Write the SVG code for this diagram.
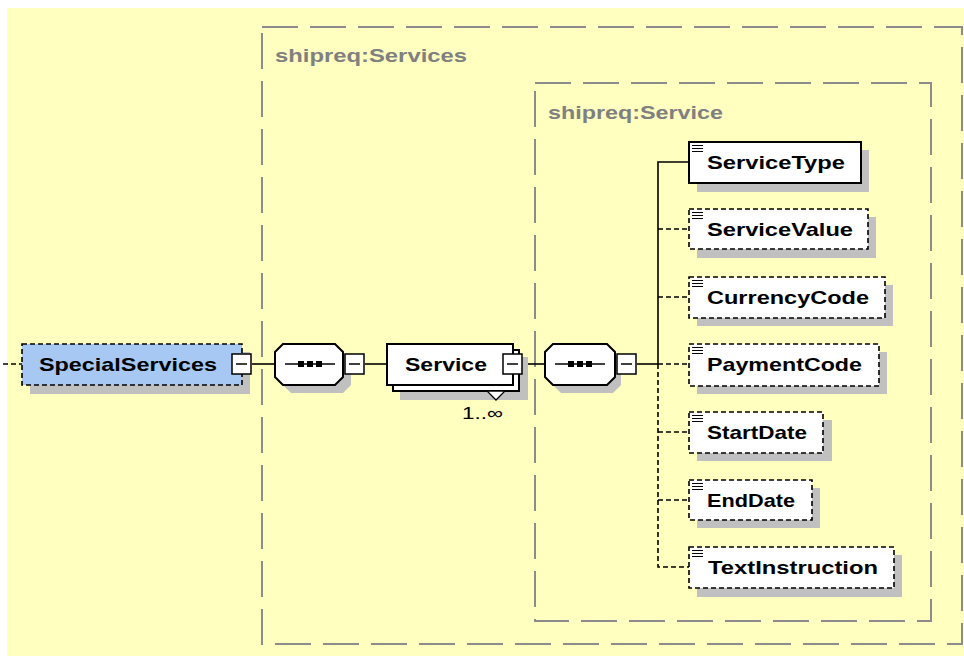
<svg xmlns="http://www.w3.org/2000/svg" width="964" height="656" viewBox="0 0 964 656">
<style>
.bg{fill:#FFFFC0}
.grp{fill:none;stroke:#8C8C8C;stroke-width:2;stroke-dasharray:36 12}
.glab{font-family:"Liberation Sans",Arial,sans-serif;font-weight:bold;font-size:19px;fill:#808080}
.shadow{fill:#C0C0C0}
.el{fill:#FFFFFF;stroke:#000;stroke-width:2}
.opt{fill:#FFFFFF;stroke:#000;stroke-width:1.6;stroke-dasharray:5 3}
.optblue{fill:#A6C8F2;stroke:#000;stroke-width:1.6;stroke-dasharray:5 3}
.lab{font-family:"Liberation Sans",Arial,sans-serif;font-weight:bold;font-size:19px;fill:#000}
.card{font-family:"Liberation Sans",Arial,sans-serif;font-size:17px;fill:#000}
.mbox{fill:#FFFFFF;stroke:#000;stroke-width:1.5}
.mline{stroke:#000;stroke-width:1.5}
.icon{stroke:#000;stroke-width:1.2}
.solid{fill:none;stroke:#000;stroke-width:1.6}
.dash{fill:none;stroke:#000;stroke-width:1.6;stroke-dasharray:5 3}
</style>
<rect class="bg" x="7" y="8" width="957" height="648"/>

<g id="group-services">
<rect class="grp" x="262" y="27" width="700" height="617"/>
<text class="glab" x="275" y="62" textLength="192" lengthAdjust="spacingAndGlyphs">shipreq:Services</text>
</g>
<g id="group-service">
<rect class="grp" x="535" y="83" width="396" height="538"/>
<text class="glab" x="548" y="119" textLength="175" lengthAdjust="spacingAndGlyphs">shipreq:Service</text>
</g>

<g id="connectors">
<line class="dash" x1="3" y1="364" x2="22" y2="364"/>
<line class="solid" x1="252" y1="364" x2="275" y2="364"/>
<line class="solid" x1="365" y1="364" x2="387" y2="364"/>
<line class="solid" x1="523" y1="364" x2="545" y2="364"/>
<line class="solid" x1="637" y1="364" x2="658" y2="364"/>
<polyline class="dash" points="658,364 658,567 689,567"/>
<line class="dash" x1="658" y1="229" x2="689" y2="229"/>
<line class="dash" x1="658" y1="297" x2="689" y2="297"/>
<line class="dash" x1="658" y1="364" x2="689" y2="364"/>
<line class="dash" x1="658" y1="432" x2="689" y2="432"/>
<line class="dash" x1="658" y1="500" x2="689" y2="500"/>
<polyline class="solid" points="658,364 658,162 689,162"/>
</g>

<g id="node-specialservices">
<rect class="shadow" x="30" y="352" width="220" height="42"/>
<rect class="optblue" x="22" y="344" width="220" height="41"/>
<text class="lab" x="39" y="371" textLength="178" lengthAdjust="spacingAndGlyphs">SpecialServices</text>
<rect class="mbox" x="232" y="354" width="19" height="20"/>
<line class="mline" x1="236" y1="364" x2="247" y2="364"/>
</g>

<g id="node-sequence1">
<polygon class="shadow" points="291,352 343,352 351,360 351,385 343,393 291,393 283,385 283,360"/>
<polygon class="el" points="283,344 335,344 343,352 343,377 335,385 283,385 275,377 275,352"/>
<line class="mline" x1="285" y1="364" x2="335" y2="364"/>
<rect x="298" y="361" width="6" height="6" fill="#000"/>
<rect x="307" y="361" width="6" height="6" fill="#000"/>
<rect x="316" y="361" width="6" height="6" fill="#000"/>
<rect class="mbox" x="345" y="354" width="19" height="20"/>
<line class="mline" x1="349" y1="364" x2="360" y2="364"/>
</g>

<g id="node-service">
<rect class="shadow" x="400" y="357" width="128" height="43"/>
<rect class="el" x="393" y="350" width="126" height="41"/>
<rect class="el" x="387" y="344" width="126" height="41"/>
<polygon class="el" points="487,391 505,391 496,400" style="stroke-width:1.3"/>
<text class="lab" x="405" y="371" textLength="82" lengthAdjust="spacingAndGlyphs">Service</text>
<rect class="mbox" x="503" y="354" width="19" height="20"/>
<line class="mline" x1="507" y1="364" x2="518" y2="364"/>
<text class="card" x="462" y="419" textLength="41" lengthAdjust="spacingAndGlyphs">1..∞</text>
</g>

<g id="node-sequence2">
<polygon class="shadow" points="561,352 613,352 621,360 621,385 613,393 561,393 553,385 553,360"/>
<polygon class="el" points="553,344 607,344 615,352 615,377 607,385 553,385 545,377 545,352"/>
<line class="mline" x1="555" y1="364" x2="605" y2="364"/>
<rect x="568" y="361" width="6" height="6" fill="#000"/>
<rect x="577" y="361" width="6" height="6" fill="#000"/>
<rect x="586" y="361" width="6" height="6" fill="#000"/>
<rect class="mbox" x="617" y="354" width="19" height="20"/>
<line class="mline" x1="621" y1="364" x2="632" y2="364"/>
</g>

<g id="node-servicetype">
<rect class="shadow" x="697" y="150" width="172" height="42"/>
<rect class="el" x="689" y="142" width="172" height="41"/>
<path class="icon" d="M692 145.5h11M692 148.5h11M692 151.5h11"/>
<text class="lab" x="707" y="169" textLength="138" lengthAdjust="spacingAndGlyphs">ServiceType</text>
</g>

<g id="node-servicevalue">
<rect class="shadow" x="697" y="217" width="179" height="41"/>
<rect class="opt" x="689" y="209" width="179" height="40"/>
<path class="icon" d="M692 212.5h11M692 215.5h11M692 218.5h11"/>
<text class="lab" x="707" y="236" textLength="146" lengthAdjust="spacingAndGlyphs">ServiceValue</text>
</g>

<g id="node-currencycode">
<rect class="shadow" x="697" y="285" width="196" height="41"/>
<rect class="opt" x="689" y="277" width="196" height="41"/>
<path class="icon" d="M692 280.5h11M692 283.5h11M692 286.5h11"/>
<text class="lab" x="707" y="304" textLength="162" lengthAdjust="spacingAndGlyphs">CurrencyCode</text>
</g>

<g id="node-paymentcode">
<rect class="shadow" x="697" y="352" width="190" height="42"/>
<rect class="opt" x="689" y="344" width="190" height="42"/>
<path class="icon" d="M692 347.5h11M692 350.5h11M692 353.5h11"/>
<text class="lab" x="707" y="371" textLength="155" lengthAdjust="spacingAndGlyphs">PaymentCode</text>
</g>

<g id="node-startdate">
<rect class="shadow" x="697" y="420" width="135" height="41"/>
<rect class="opt" x="689" y="412" width="134" height="41"/>
<path class="icon" d="M692 415.5h11M692 418.5h11M692 421.5h11"/>
<text class="lab" x="707" y="439" textLength="100" lengthAdjust="spacingAndGlyphs">StartDate</text>
</g>

<g id="node-enddate">
<rect class="shadow" x="697" y="488" width="123" height="40"/>
<rect class="opt" x="689" y="480" width="123" height="40"/>
<path class="icon" d="M692 483.5h11M692 486.5h11M692 489.5h11"/>
<text class="lab" x="707" y="507" textLength="88" lengthAdjust="spacingAndGlyphs">EndDate</text>
</g>

<g id="node-textinstruction">
<rect class="shadow" x="697" y="555" width="205" height="42"/>
<rect class="opt" x="689" y="547" width="205" height="41"/>
<path class="icon" d="M692 550.5h11M692 553.5h11M692 556.5h11"/>
<text class="lab" x="708" y="574" textLength="170" lengthAdjust="spacingAndGlyphs">TextInstruction</text>
</g>
</svg>
